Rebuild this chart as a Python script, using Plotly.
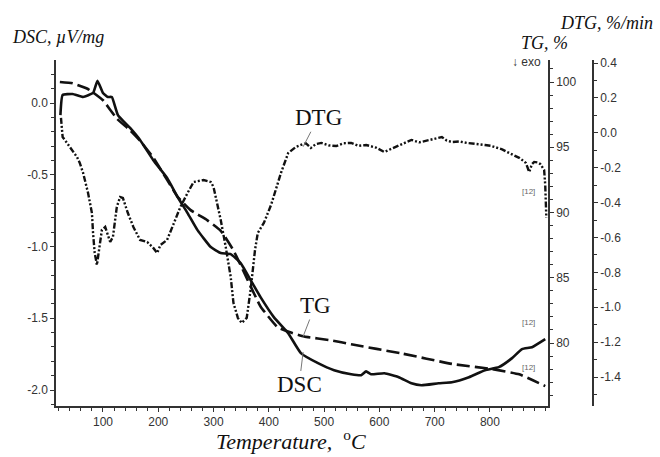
import plotly.graph_objects as go

# ---------------- data ----------------
dsc_T = [23, 27, 45, 64, 82, 90, 100, 109, 116, 127, 149, 167, 191, 216, 235, 253, 271, 295,
         313, 331, 349, 367, 385, 409, 435, 458, 489, 518, 549, 567, 576, 585, 609, 635, 658,
         676, 707, 731, 762, 791, 816, 840, 858, 876, 900]
dsc_v = [-0.084, 0.056, 0.063, 0.042, 0.07, 0.155, 0.07, 0.042, 0.042, -0.084, -0.174, -0.258,
         -0.398, -0.523, -0.655, -0.767, -0.886, -1.004, -1.046, -1.053, -1.116, -1.234, -1.353,
         -1.492, -1.604, -1.743, -1.813, -1.862, -1.890, -1.897, -1.870, -1.890, -1.883, -1.911,
         -1.953, -1.967, -1.953, -1.946, -1.911, -1.862, -1.841, -1.778, -1.715, -1.702, -1.646]

tg_T = [22, 45, 71, 82, 100, 125, 149, 167, 191, 216, 235, 258, 289, 313, 336, 362, 385, 416,
        440, 464, 513, 549, 640, 731, 804, 853, 900]
tg_v = [100.0, 99.9, 99.5, 99.2, 98.6, 97.2, 96.3, 95.5, 94.2, 92.5, 91.2, 90.2, 89.4, 88.6,
        87.1, 84.8, 82.8, 81.2, 80.8, 80.5, 80.2, 79.9, 79.2, 78.4, 78.0, 77.6, 76.7]

dtg_T = [24, 25, 27, 40, 53, 58, 64, 73, 80, 82, 85, 89, 93, 98, 104, 113, 118, 125, 131, 136,
         145, 155, 167, 180, 191, 198, 204, 216, 227, 240, 253, 264, 282, 295, 300, 313, 322,
         331, 336, 344, 351, 360, 367, 375, 380, 391, 404, 422, 435, 449, 458, 467, 476, 485,
         495, 508, 522, 535, 549, 562, 576, 594, 609, 620, 631, 645, 658, 672, 685, 699, 713,
         722, 731, 745, 758, 775, 791, 802, 813, 822, 831, 842, 853, 860, 865, 871, 876, 880,
         886, 891, 898, 900, 902]
dtg_v = [0.085, 0.028, -0.024, -0.081, -0.139, -0.173, -0.230, -0.345, -0.460, -0.574, -0.689,
         -0.758, -0.654, -0.557, -0.540, -0.626, -0.597, -0.425, -0.368, -0.374, -0.460, -0.540,
         -0.614, -0.626, -0.660, -0.689, -0.643, -0.614, -0.528, -0.425, -0.345, -0.282, -0.271,
         -0.282, -0.311, -0.500, -0.654, -0.826, -0.975, -1.061, -1.090, -1.061, -0.901, -0.672,
         -0.574, -0.517, -0.414, -0.230, -0.116, -0.081, -0.070, -0.060, -0.087, -0.065, -0.058,
         -0.072, -0.076, -0.060, -0.058, -0.075, -0.070, -0.085, -0.110, -0.095, -0.081, -0.060,
         -0.041, -0.055, -0.047, -0.035, -0.024, -0.045, -0.053, -0.050, -0.058, -0.062, -0.070,
         -0.075, -0.087, -0.095, -0.110, -0.125, -0.144, -0.160, -0.173, -0.225, -0.180, -0.167,
         -0.170, -0.179, -0.213, -0.300, -0.488]

x_ticks = [100, 200, 300, 400, 500, 600, 700, 800]
dsc_ticks = [-2.0, -1.5, -1.0, -0.5, 0.0]
tg_ticks = [80, 85, 90, 95, 100]
dtg_ticks = [-1.4, -1.2, -1.0, -0.8, -0.6, -0.4, -0.2, 0.0, 0.2, 0.4]

# ---------------- figure ----------------
INK = "#111111"
AX = "#333333"
TICKFONT = dict(family="Liberation Sans, Arial, sans-serif", size=12, color="#333333")
SERIF = "Liberation Serif, Times New Roman, serif"

fig = go.Figure()
fig.add_trace(go.Scatter(x=dsc_T, y=dsc_v, mode="lines", yaxis="y",
                         line=dict(color=INK, width=2.6, shape="spline", smoothing=0.4),
                         name="DSC"))
fig.add_trace(go.Scatter(x=tg_T, y=tg_v, mode="lines", yaxis="y2",
                         line=dict(color=INK, width=2.6, dash="13px,5px", shape="spline",
                                   smoothing=0.4), name="TG"))
fig.add_trace(go.Scatter(x=dtg_T, y=dtg_v, mode="lines", yaxis="y3",
                         line=dict(color=INK, width=2.4, dash="6px,2px,2px,2px,2px,2px"),
                         name="DTG"))

W, H = 660, 457
ML, MR, MT, MB = 56, 60, 60, 51
PW = W - ML - MR
PH = H - MT - MB


def px(x):
    return (x - ML) / PW


def py(y):
    return (H - MB - y) / PH


common = dict(showgrid=False, zeroline=False, showline=True, linecolor=AX, linewidth=1.5,
              ticks="outside", ticklen=4, tickwidth=1, tickcolor=AX, tickfont=TICKFONT)

fig.update_layout(
    width=W, height=H, autosize=False,
    margin=dict(l=ML, r=MR, t=MT, b=MB, autoexpand=False),
    paper_bgcolor="white", plot_bgcolor="white",
    showlegend=False,
    xaxis=dict(domain=[0, px(548)], range=[15, 905], tickmode="array", tickvals=x_ticks,
               minor=dict(tickmode="linear", tick0=0, dtick=20, ticks="outside", ticklen=3,
                          tickcolor=AX),
               **common),
    yaxis=dict(range=[-2.1115, 0.2997], tickmode="array", tickvals=dsc_ticks,
               ticktext=[f"{v:.1f}" for v in dsc_ticks],
               minor=dict(tickmode="linear", tick0=0, dtick=0.1, ticks="outside", ticklen=3,
                          tickcolor=AX),
               **common),
    yaxis2=dict(range=[75.172, 101.686], overlaying="y", side="right", anchor="x",
                tickmode="array", tickvals=tg_ticks,
                minor=dict(tickmode="linear", tick0=0, dtick=1, ticks="outside", ticklen=3,
                           tickcolor=AX),
                **common),
    yaxis3=dict(range=[-1.5662, 0.4172], overlaying="y", side="right", anchor="free",
                position=px(593), tickmode="array", tickvals=dtg_ticks,
                ticktext=[f"{v:.1f}" for v in dtg_ticks],
                minor=dict(tickmode="linear", tick0=0, dtick=0.1, ticks="outside", ticklen=3,
                           tickcolor=AX),
                **common),
)

ann = []
# axis titles
ann.append(dict(text="<i>DSC, µV/mg</i>", x=px(10), y=py(37), xanchor="left", yanchor="middle",
                font=dict(family=SERIF, size=18, color=INK)))
ann.append(dict(text="<i>TG, %</i>", x=px(519), y=py(43), xanchor="left", yanchor="middle",
                font=dict(family=SERIF, size=18, color=INK)))
ann.append(dict(text="<i>DTG, %/min</i>", x=px(655), y=py(23), xanchor="right", yanchor="middle",
                font=dict(family=SERIF, size=18, color=INK)))
ann.append(dict(text="↓ exo", x=px(510), y=py(62), xanchor="left", yanchor="middle",
                font=dict(family="Liberation Sans, Arial, sans-serif", size=12, color="#333333")))
ann.append(dict(text="<i>Temperature,  </i><sup>o</sup><i>C</i>", x=px(291), y=py(456),
                xanchor="center", yanchor="bottom",
                font=dict(family=SERIF, size=22, color=INK)))
for a in ann:
    a.update(xref="paper", yref="paper", showarrow=False)

# curve labels with leader lines
lbl_font = dict(family=SERIF, size=23, color=INK)
ann.append(dict(text="DTG", x=462, y=-0.08, xref="x", yref="y3", showarrow=True, arrowhead=0,
                arrowwidth=1, arrowcolor="#777777", ax=15, ay=-29, font=lbl_font))
ann.append(dict(text="TG", x=462, y=80.5, xref="x", yref="y2", showarrow=True, arrowhead=0,
                arrowwidth=1, arrowcolor="#777777", ax=12, ay=-31, font=lbl_font))
ann.append(dict(text="DSC", x=462, y=-1.735, xref="x", yref="y", showarrow=True, arrowhead=0,
                arrowwidth=1, arrowcolor="#777777", ax=-4, ay=33, font=lbl_font))
# [12] marks at the curve ends
small = dict(family="Liberation Sans, Arial, sans-serif", size=8, color="#666666")
ann.append(dict(text="[12]", x=px(537), y=py(191), xref="paper", yref="paper",
                showarrow=False, font=small))
ann.append(dict(text="[12]", x=px(537), y=py(329), xref="paper", yref="paper",
                showarrow=False, font=small))
ann.append(dict(text="[12]", x=px(537), y=py(374), xref="paper", yref="paper",
                showarrow=False, font=small))

fig.update_layout(annotations=ann)
fig.write_html("out.html", config={"displayModeBar": False},
               post_script="document.body.style.margin='0';document.body.style.padding='0';")
